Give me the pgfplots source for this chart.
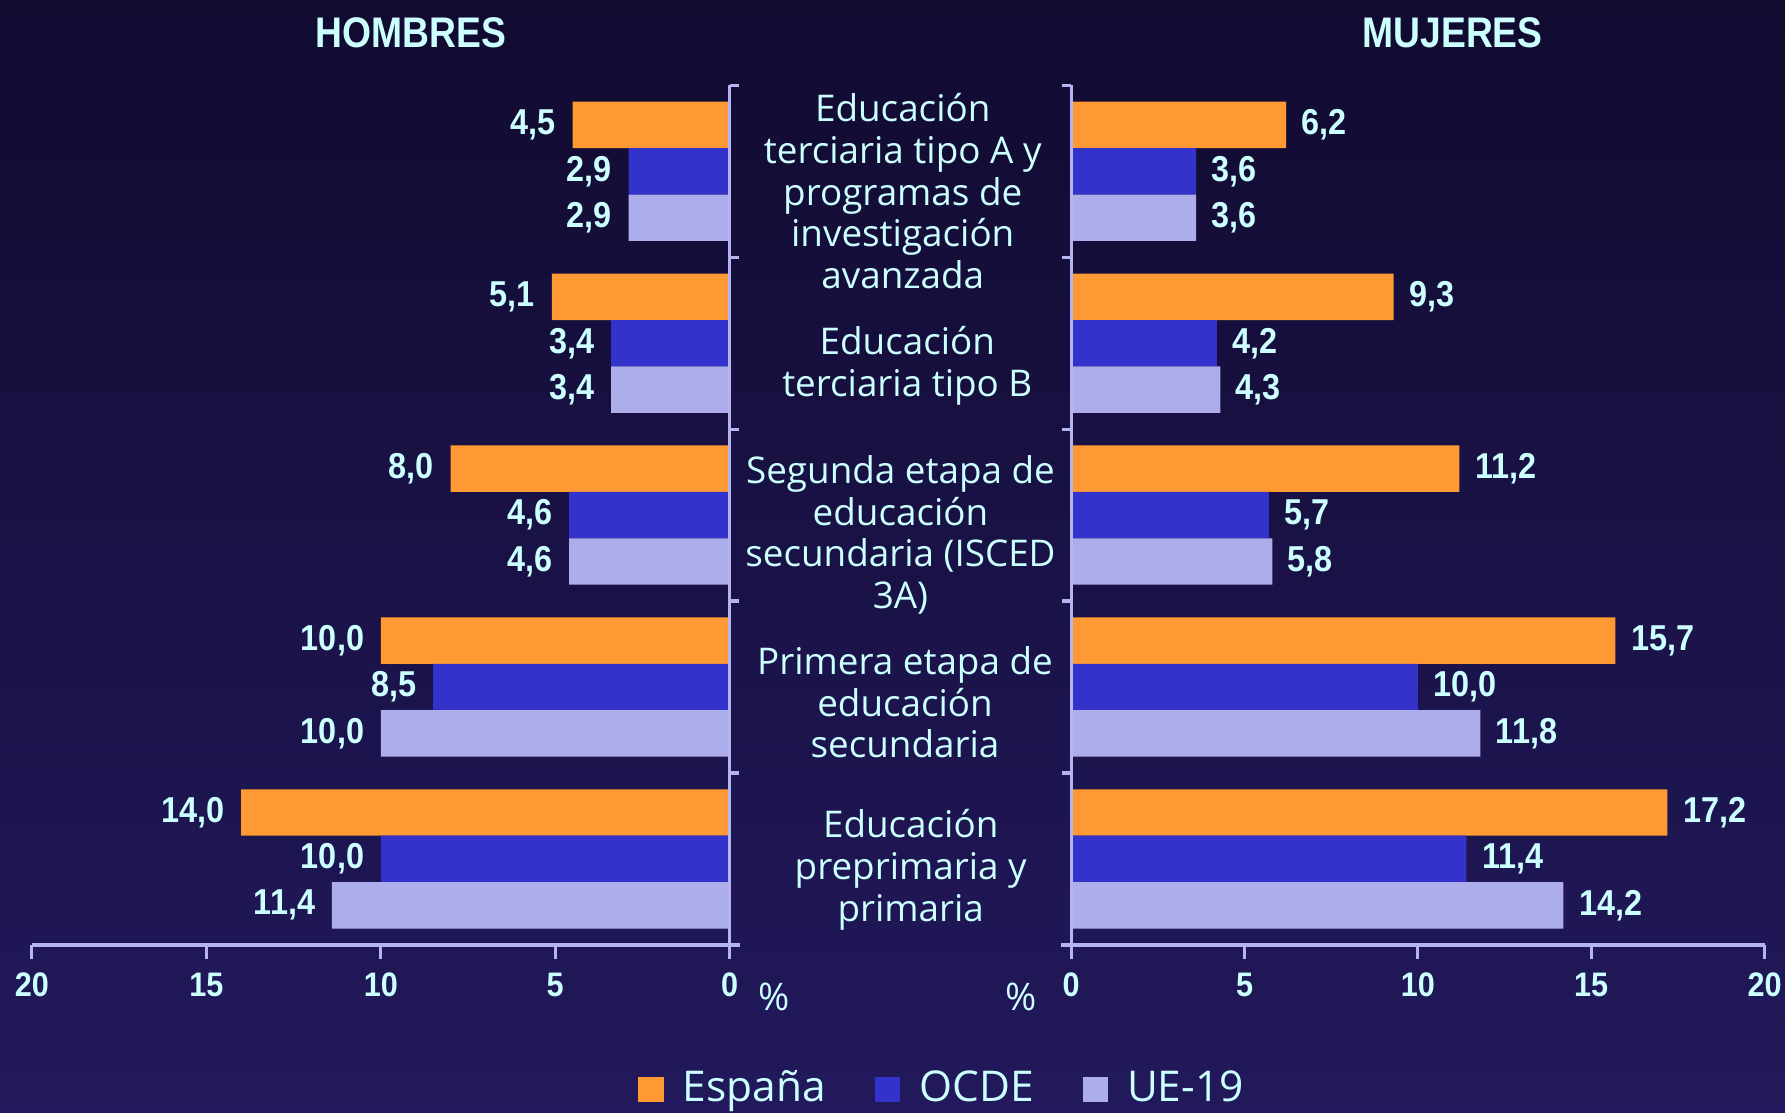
\documentclass[border=0pt]{standalone}
\usepackage{fontspec}
\usepackage{pgfplots}
\pgfplotsset{compat=1.18}
\setmainfont{Open Sans}
\newfontfamily\numfont[FakeStretch=0.9]{Liberation Sans}
\newfontfamily\titfont[FakeStretch=0.87]{Liberation Sans}
\definecolor{bgtop}{HTML}{110B30}
\definecolor{bgbot}{HTML}{22195C}
\definecolor{esp}{HTML}{FF9933}
\definecolor{ocde}{HTML}{3333CC}
\definecolor{ue}{HTML}{ADADEB}
\definecolor{txt}{HTML}{CCFFFF}
\definecolor{axc}{HTML}{B4B4F0}
\pgfplotsset{
  mybars/.style={
    scale only axis, width=61.3mm, height=75.5mm, clip=false,
    xbar, bar width=0.27, xmin=0, xmax=20, ymin=-0.5, ymax=4.5,
    axis x line*=bottom, axis y line=none,
    x axis line style={-, axc, line width=0.9pt, shorten <=-0.9mm},
    xtick={0,5,10,15,20}, xtick align=outside, major tick length=1.2mm,
    tick style={axc, line width=0.7pt},
    ytick=\empty,
    /pgf/number format/assume math mode=true,
    xticklabel style={font=\numfont\bfseries\fontsize{8.5}{10}\selectfont, text=txt},
    nodes near coords={\pgfmathprintnumber[fixed,fixed zerofill,precision=1,use comma,assume math mode=true]{\pgfplotspointmeta}},
    nodes near coords style={font=\numfont\bfseries\fontsize{9}{10}\selectfont, text=txt, inner sep=0pt},
  }
}
\begin{document}
\begin{tikzpicture}[x=1mm,y=1mm]
\fill[top color=bgtop, bottom color=bgbot] (0,0) rectangle (156.8,97.7);

% HOMBRES
\begin{axis}[mybars, at={(2.8mm,14.7mm)}, anchor=south west, x dir=reverse,
  every node near coord/.append style={anchor=east, xshift=-1.4mm}]
\addplot[fill=esp, draw=none, bar shift=0.27] coordinates {(14.0,0) (10.0,1) (8.0,2) (5.1,3) (4.5,4)};
\addplot[fill=ocde, draw=none, bar shift=0] coordinates {(10.0,0) (8.5,1) (4.6,2) (3.4,3) (2.9,4)};
\addplot[fill=ue, draw=none, bar shift=-0.27] coordinates {(11.4,0) (10.0,1) (4.6,2) (3.4,3) (2.9,4)};
\draw[axc, line width=0.8pt] (axis cs:0,-0.5) -- (axis cs:0,4.5);
\pgfplotsinvokeforeach{0.5,1.5,2.5,3.5,4.5}{\draw[axc, line width=0.8pt] (axis cs:0,#1) -- ([xshift=0.8mm]axis cs:0,#1);}
\end{axis}

% MUJERES
\begin{axis}[mybars, at={(94.1mm,14.7mm)}, anchor=south west, width=60.9mm,
  every node near coord/.append style={anchor=west, xshift=1.3mm},
  legend columns=3,
  legend style={at={(axis description cs:-0.182,-0.168)}, anchor=center, draw=none, fill=none,
    text=txt, font=\fontsize{10.6}{13}\selectfont,
    /tikz/every odd column/.append style={column sep=1.0mm},
    /tikz/every even column/.append style={column sep=3.6mm}},
  legend image code/.code={\fill[#1] (0mm,-1.1mm) rectangle (2.2mm,1.1mm);}]
\addplot[fill=esp, draw=none, bar shift=0.27] coordinates {(17.2,0) (15.7,1) (11.2,2) (9.3,3) (6.2,4)};
\addplot[fill=ocde, draw=none, bar shift=0] coordinates {(11.4,0) (10.0,1) (5.7,2) (4.2,3) (3.6,4)};
\addplot[fill=ue, draw=none, bar shift=-0.27] coordinates {(14.2,0) (11.8,1) (5.8,2) (4.3,3) (3.6,4)};
\legend{España, OCDE, UE-19}
\draw[axc, line width=0.8pt] (axis cs:0,-0.5) -- (axis cs:0,4.5);
\pgfplotsinvokeforeach{0.5,1.5,2.5,3.5,4.5}{\draw[axc, line width=0.8pt] (axis cs:0,#1) -- ([xshift=-0.8mm]axis cs:0,#1);}
\end{axis}

\node[font=\titfont\bfseries\fontsize{10.7}{12}\selectfont, text=txt] at (36.1,94.8) {HOMBRES};
\node[font=\titfont\bfseries\fontsize{10.7}{12}\selectfont, text=txt] at (127.6,94.8) {MUJERES};
\node[text=txt, font=\fontsize{9.5}{10}\selectfont] at (68,10.1) {\%};
\node[text=txt, font=\fontsize{9.5}{10}\selectfont] at (89.7,10.1) {\%};

\begin{scope}[every node/.style={text=txt, align=center, font=\fontsize{9.2}{10.4}\selectfont}]
\node at (79.3,80.9) {Educación\\terciaria tipo A y\\programas de\\investigación\\avanzada};
\node at (79.7,65.55) {Educación\\terciaria tipo B};
\node at (79.1,50.7) {Segunda etapa de\\educación\\secundaria (ISCED\\3A)};
\node at (79.5,36.0) {Primera etapa de\\educación\\secundaria};
\node at (80.0,21.3) {Educación\\preprimaria y\\primaria};
\end{scope}
\pgfresetboundingbox
\path[use as bounding box] (0,0) rectangle (156.8,97.7);
\end{tikzpicture}
\end{document}
